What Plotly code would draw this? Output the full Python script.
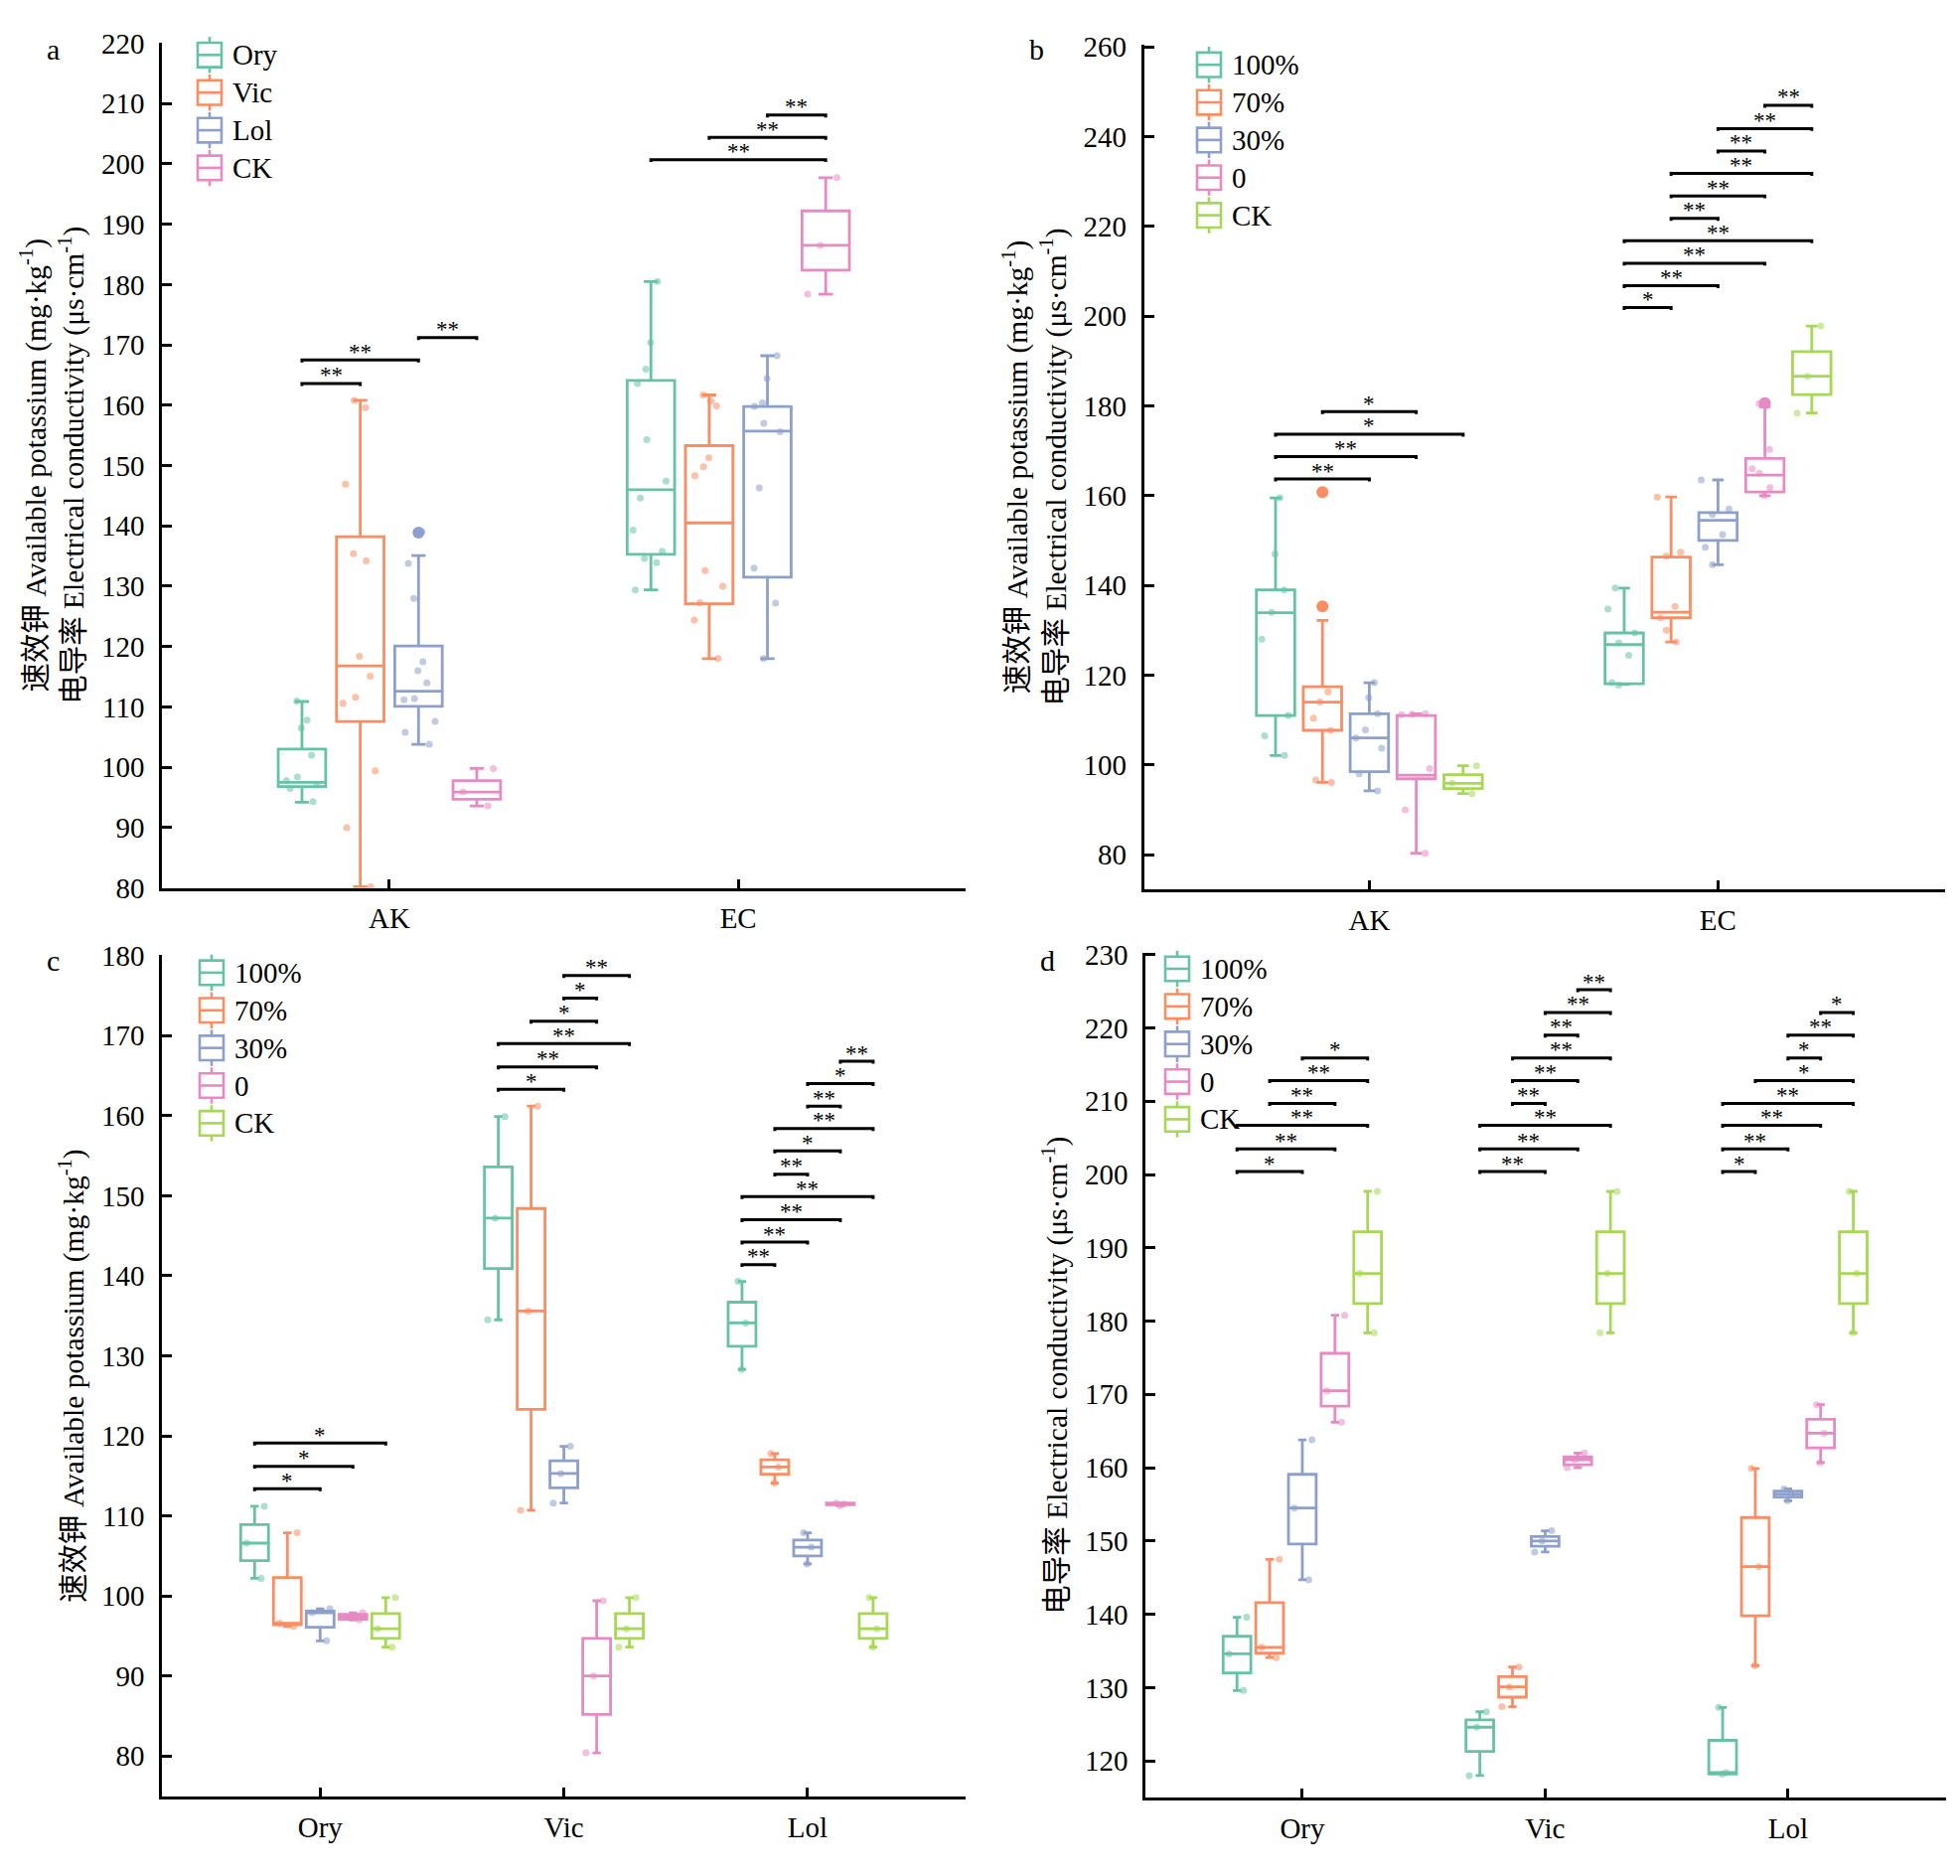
import plotly.graph_objects as go

# ---------------- data ----------------
COLORS = ["#66C2A5", "#FC8D62", "#8DA0CB", "#E78AC3", "#A6D854"]
COLORS_A = ["#66C2A5", "#FC8D62", "#8DA0CB", "#E78AC3"]

# panel a: grouped by crop, categories AK / EC
A_GROUPS = ["Ory", "Vic", "Lol", "CK"]
A_CATS = ["AK", "EC"]
A_LOWER = [[94.2, 129.4], [80.2, 118.0], [103.8, 118.0], [93.6, 178.4]]
A_Q1 = [[96.8, 135.3], [107.6, 127.1], [110.1, 131.5], [94.7, 182.4]]
A_MEDIAN = [[97.5, 146.0], [116.8, 140.5], [112.6, 155.7], [95.9, 186.5]]
A_Q3 = [[103.0, 164.1], [138.2, 153.3], [120.1, 159.8], [97.8, 192.2]]
A_UPPER = [[110.9, 180.5], [160.8, 161.7], [135.1, 168.2], [99.8, 197.7]]
A_POINTS = [
    [[111.0, 107.8, 106.5, 102.0, 98.4, 97.8, 97.2, 96.5, 94.3],
     [180.5, 170.4, 166.0, 163.6, 154.3, 147.4, 144.6, 139.3, 135.8, 134.6, 133.9, 129.4]],
    [[160.8, 159.6, 146.9, 135.4, 134.2, 118.4, 115.1, 111.6, 110.6, 99.4, 90.0, 80.2],
     [161.7, 160.7, 159.9, 151.3, 149.8, 148.3, 132.6, 130.0, 127.3, 124.4, 118.0]],
    [[139.0, 133.8, 128.0, 117.5, 116.0, 114.0, 111.4, 111.2, 107.6, 105.8, 103.8],
     [168.2, 164.4, 160.4, 159.8, 157.0, 155.6, 146.3, 133.0, 127.2, 118.0]],
    [[99.8, 95.9, 93.6], [197.7, 186.5, 178.4]],
]
A_OUTLIERS = [(2, 0, 138.9)]  # (group, category, value)
A_SIG = [(0, 0, 1, 163.6, "**"), (0, 0, 2, 167.5, "**"), (0, 2, 3, 171.2, "**"),
         (1, 0, 3, 200.7, "**"), (1, 1, 3, 204.4, "**"), (1, 2, 3, 208.1, "**")]

# panel b: grouped by treatment, categories AK / EC
B_GROUPS = ["100%", "70%", "30%", "0", "CK"]
B_CATS = ["AK", "EC"]
B_LOWER = [[102.1, 118.0], [96.1, 127.4], [94.2, 144.6], [80.3, 160.0], [93.6, 178.4]]
B_Q1 = [[111.0, 118.1], [107.7, 132.8], [98.5, 150.0], [96.9, 160.8], [94.7, 182.5]]
B_MEDIAN = [[133.9, 126.8], [114.0, 134.0], [106.0, 154.5], [97.7, 164.6], [95.9, 186.6]]
B_Q3 = [[139.0, 129.4], [117.4, 146.3], [111.4, 156.2], [111.0, 168.3], [97.8, 192.1]]
B_UPPER = [[159.5, 139.4], [132.2, 159.7], [118.3, 163.5], [111.4, 179.8], [99.8, 197.8]]
B_POINTS = [
    [[159.5, 147.0, 139.0, 134.0, 128.0, 111.0, 106.5, 102.1],
     [139.4, 134.7, 129.4, 127.2, 124.4, 118.3, 117.8]],
    [[160.8, 116.3, 114.0, 110.4, 107.7, 96.6, 96.1],
     [159.7, 147.4, 146.5, 135.3, 132.8, 130.0, 127.4]],
    [[118.3, 115.0, 111.4, 107.8, 106.0, 103.7, 98.0, 94.2],
     [163.5, 157.0, 155.8, 151.3, 148.5, 144.6]],
    [[111.4, 111.3, 111.2, 99.2, 90.0, 80.3],
     [180.5, 170.3, 166.0, 165.0, 161.8, 160.0]],
    [[99.8, 95.9, 93.6], [197.8, 186.6, 178.4]],
]
B_OUTLIERS = [(1, 0, 160.8), (1, 0, 135.3), (3, 1, 180.6)]
B_SIG = [(0, 0, 2, 163.7, "**"), (0, 0, 3, 168.7, "**"), (0, 0, 4, 173.7, "*"), (0, 1, 3, 178.7, "*"),
         (1, 0, 1, 201.9, "*"), (1, 0, 2, 206.8, "**"), (1, 0, 3, 211.8, "**"), (1, 0, 4, 216.8, "**"),
         (1, 1, 2, 221.8, "**"), (1, 1, 3, 226.8, "**"), (1, 1, 4, 231.8, "**"),
         (1, 2, 3, 236.8, "**"), (1, 2, 4, 241.8, "**"), (1, 3, 4, 247.0, "**")]

# panel c: available potassium by crop
C_GROUPS = ["100%", "70%", "30%", "0", "CK"]
C_CATS = ["Ory", "Vic", "Lol"]
C_LOWER = [[102.2, 134.5, 128.3], [96.2, 110.7, 114.1], [94.4, 111.6, 104.0], [97.0, 80.4, 111.3], [93.6, 93.6, 93.6]]
C_Q1 = [[104.4, 140.9, 131.2], [96.4, 123.3, 115.2], [96.1, 113.5, 105.0], [97.1, 85.2, 111.4], [94.7, 94.7, 94.7]]
C_MEDIAN = [[106.6, 147.2, 134.1], [96.6, 135.6, 116.1], [97.9, 115.3, 106.1], [97.4, 90.0, 111.5], [95.9, 95.9, 95.9]]
C_Q3 = [[108.9, 153.6, 136.7], [102.3, 148.4, 117.0], [98.1, 116.9, 107.0], [97.7, 94.7, 111.6], [97.8, 97.8, 97.8]]
C_UPPER = [[111.2, 159.9, 139.3], [107.9, 161.2, 117.8], [98.4, 118.7, 107.9], [97.9, 99.4, 111.6], [99.8, 99.8, 99.8]]
C_POINTS = [
    [[111.2, 106.6, 102.2], [159.9, 147.2, 134.5], [139.3, 134.1, 128.3]],
    [[107.9, 96.6, 96.2], [161.2, 135.6, 110.7], [117.8, 116.1, 114.1]],
    [[98.4, 97.9, 94.4], [118.7, 115.3, 111.6], [107.9, 106.1, 104.0]],
    [[97.9, 97.4, 97.0], [99.4, 90.0, 80.4], [111.6, 111.5, 111.3]],
    [[99.8, 95.9, 93.6], [99.8, 95.9, 93.6], [99.8, 95.9, 93.6]],
]
C_OUTLIERS = []
C_SIG = [(0, 0, 2, 113.4, "*"), (0, 0, 3, 116.2, "*"), (0, 0, 4, 119.1, "*"),
         (1, 0, 2, 163.3, "*"), (1, 0, 3, 166.1, "**"), (1, 0, 4, 169.0, "**"),
         (1, 1, 3, 171.8, "*"), (1, 2, 3, 174.7, "*"), (1, 2, 4, 177.5, "**"),
         (2, 0, 1, 141.4, "**"), (2, 0, 2, 144.2, "**"), (2, 0, 3, 147.0, "**"), (2, 0, 4, 149.9, "**"),
         (2, 1, 2, 152.7, "**"), (2, 1, 3, 155.6, "*"), (2, 1, 4, 158.4, "**"),
         (2, 2, 3, 161.2, "**"), (2, 2, 4, 164.0, "*"), (2, 3, 4, 166.8, "**")]

# panel d: electrical conductivity by crop
D_GROUPS = ["100%", "70%", "30%", "0", "CK"]
D_CATS = ["Ory", "Vic", "Lol"]
D_LOWER = [[129.6, 118.0, 118.2], [134.1, 127.4, 133.0], [144.7, 148.5, 155.5], [166.2, 160.0, 160.7], [178.4, 178.4, 178.4]]
D_Q1 = [[132.0, 121.3, 118.2], [134.7, 128.7, 139.8], [149.6, 149.3, 156.0], [168.4, 160.4, 162.7], [182.4, 182.4, 182.4]]
D_MEDIAN = [[134.6, 124.6, 118.4], [135.5, 130.1, 146.5], [154.5, 150.0, 156.4], [170.5, 161.1, 164.7], [186.5, 186.5, 186.5]]
D_Q3 = [[137.0, 125.6, 122.8], [141.6, 131.5, 153.2], [159.1, 150.6, 156.8], [175.6, 161.5, 166.6], [192.2, 192.2, 192.2]]
D_UPPER = [[139.6, 126.7, 127.3], [147.5, 132.8, 159.9], [163.8, 151.4, 157.1], [180.8, 162.0, 168.6], [197.7, 197.7, 197.7]]
D_POINTS = [
    [[139.6, 134.6, 129.6], [126.7, 124.6, 118.0], [127.3, 118.4, 118.2]],
    [[147.5, 135.5, 134.1], [132.8, 130.1, 127.4], [159.9, 146.5, 133.0]],
    [[163.8, 154.5, 144.7], [151.4, 150.0, 148.5], [157.1, 156.4, 155.5]],
    [[180.8, 170.5, 166.2], [162.0, 161.1, 160.0], [168.6, 164.7, 160.7]],
    [[197.7, 186.5, 178.4], [197.7, 186.5, 178.4], [197.7, 186.5, 178.4]],
]
D_OUTLIERS = []
D_SIG = [(0, 0, 2, 200.4, "*"), (0, 0, 3, 203.5, "**"), (0, 0, 4, 206.7, "**"),
         (0, 1, 3, 209.7, "**"), (0, 1, 4, 212.8, "**"), (0, 2, 4, 215.9, "*"),
         (1, 0, 2, 200.4, "**"), (1, 0, 3, 203.5, "**"), (1, 0, 4, 206.7, "**"),
         (1, 1, 2, 209.7, "**"), (1, 1, 3, 212.8, "**"), (1, 1, 4, 215.9, "**"),
         (1, 2, 3, 219.0, "**"), (1, 2, 4, 222.1, "**"), (1, 3, 4, 225.2, "**"),
         (2, 0, 1, 200.4, "*"), (2, 0, 2, 203.5, "**"), (2, 0, 3, 206.7, "**"), (2, 0, 4, 209.7, "**"),
         (2, 1, 4, 212.8, "*"), (2, 2, 3, 215.9, "*"), (2, 2, 4, 219.0, "**"), (2, 3, 4, 222.1, "*")]

YT_AK = "速效钾 Available potassium (mg·kg<sup>-1</sup>)"
YT_EC = "电导率 Electrical conductivity (μs·cm<sup>-1</sup>)"

# ---------------- layout helpers ----------------
W, H = 1973, 1888
FONT = "Liberation Serif, Noto Sans CJK SC, serif"

fig = go.Figure()
annotations = []
shapes = []


def add_panel(n, groups, cats, lower, q1, med, q3, upper, points, outliers, sig,
              colors, step, bw, yrange, px_height):
    xa = "x" if n == 1 else f"x{n}"
    ya = "y" if n == 1 else f"y{n}"
    ng = len(groups)

    def pos(c, g):
        return c + (g - (ng - 1) / 2) * step

    for g, name in enumerate(groups):
        xs = [pos(c, g) for c in range(len(cats))]
        # jittered raw points (drawn by plotly's box point jitter)
        ptx, pty = [], []
        for c in range(len(cats)):
            for v in points[g][c]:
                ptx.append(xs[c])
                pty.append(v)
        fig.add_trace(go.Box(
            x=ptx, y=pty, boxpoints="all", jitter=0.9, pointpos=0, width=bw,
            line=dict(width=0), fillcolor="rgba(0,0,0,0)", whiskerwidth=0,
            marker=dict(color=colors[g], size=7, opacity=0.55),
            showlegend=False, hoverinfo="y", xaxis=xa, yaxis=ya))
        # the box itself from the summary statistics
        fig.add_trace(go.Box(
            x=xs, q1=q1[g], median=med[g], q3=q3[g],
            lowerfence=lower[g], upperfence=upper[g],
            width=bw, whiskerwidth=0.3, name=name,
            line=dict(color=colors[g], width=2.8), fillcolor="rgba(0,0,0,0)",
            boxpoints=False, showlegend=False, xaxis=xa, yaxis=ya))

    if outliers:
        fig.add_trace(go.Scatter(
            x=[pos(c, g) for g, c, v in outliers], y=[v for g, c, v in outliers],
            mode="markers", marker=dict(color=[colors[g] for g, c, v in outliers], size=12),
            showlegend=False, xaxis=xa, yaxis=ya))

    # significance brackets
    hook = 2.5 * (yrange[1] - yrange[0]) / px_height
    bx, by = [], []
    for c, g1, g2, yv, lab in sig:
        x1, x2 = pos(c, g1), pos(c, g2)
        bx += [x1, x1, x2, x2, None]
        by += [yv - hook, yv, yv, yv - hook, None]
        annotations.append(dict(
            x=(x1 + x2) / 2, y=yv, xref=xa, yref=ya, text=lab, showarrow=False,
            yanchor="middle", yshift=8, font=dict(family=FONT, size=23, color="black")))
    fig.add_trace(go.Scatter(x=bx, y=by, mode="lines", line=dict(color="black", width=3),
                             showlegend=False, hoverinfo="skip", xaxis=xa, yaxis=ya))


def add_legend(groups, colors, cx, cy0, dy=38.5):
    # box-shaped legend keys (box, median, whiskers) in pixel positions of the page
    def fx(v):
        return v / W

    def fy(v):
        return 1 - v / H

    for g, name in enumerate(groups):
        cy = cy0 + g * dy
        ln = dict(color=colors[g], width=2.6)
        shapes.append(dict(type="rect", xref="paper", yref="paper", line=ln,
                           x0=fx(cx - 12), x1=fx(cx + 12), y0=fy(cy + 12.5), y1=fy(cy - 12.5)))
        shapes.append(dict(type="line", xref="paper", yref="paper", line=ln,
                           x0=fx(cx - 12), x1=fx(cx + 12), y0=fy(cy), y1=fy(cy)))
        for s in (-1, 1):
            shapes.append(dict(type="line", xref="paper", yref="paper", line=ln,
                               x0=fx(cx), x1=fx(cx), y0=fy(cy + s * 12.5), y1=fy(cy + s * 18.5)))
        annotations.append(dict(x=fx(cx + 21), y=fy(cy), xref="paper", yref="paper", text=name,
                                showarrow=False, xanchor="left", yanchor="middle",
                                font=dict(family=FONT, size=29, color="black")))


RANGE_A = (80, 220.1)
RANGE_B = (72.2, 260.6)
RANGE_C = (74.9, 180.1)
RANGE_D = (115.0, 230.2)

add_panel(1, A_GROUPS, A_CATS, A_LOWER, A_Q1, A_MEDIAN, A_Q3, A_UPPER, A_POINTS,
          A_OUTLIERS, A_SIG, COLORS_A, 0.167, 0.136, RANGE_A, 865)
add_panel(2, B_GROUPS, B_CATS, B_LOWER, B_Q1, B_MEDIAN, B_Q3, B_UPPER, B_POINTS,
          B_OUTLIERS, B_SIG, COLORS, 0.1345, 0.11, RANGE_B, 865)
add_panel(3, C_GROUPS, C_CATS, C_LOWER, C_Q1, C_MEDIAN, C_Q3, C_UPPER, C_POINTS,
          C_OUTLIERS, C_SIG, COLORS, 0.1345, 0.114, RANGE_C, 862)
add_panel(4, D_GROUPS, D_CATS, D_LOWER, D_Q1, D_MEDIAN, D_Q3, D_UPPER, D_POINTS,
          D_OUTLIERS, D_SIG, COLORS, 0.1345, 0.114, RANGE_D, 864)

add_legend(A_GROUPS, COLORS_A, 211, 41)
add_legend(B_GROUPS, COLORS, 1217, 51)
add_legend(C_GROUPS, COLORS, 213, 980)
add_legend(D_GROUPS, COLORS, 1185, 976)

axis_style = dict(showline=True, linecolor="black", linewidth=3, showgrid=False,
                  zeroline=False, tickcolor="black", tickwidth=3, ticks="inside",
                  tickfont=dict(family=FONT, size=29, color="black"))


def xaxis(domain, cats, anchor, left):
    return dict(axis_style, domain=domain, anchor=anchor, range=[left, len(cats) - 1 + 0.65],
                tickmode="array", tickvals=list(range(len(cats))), ticktext=cats,
                ticklen=9, ticklabelstandoff=3)


def yaxis(domain, rng, dtick, title, anchor):
    return dict(axis_style, domain=domain, anchor=anchor, range=list(rng), dtick=dtick,
                ticklen=10, ticklabelstandoff=9,
                title=dict(text=title, font=dict(family=FONT, size=29.5, color="black"), standoff=9))


for lab, lx, ly in [("a", 53, 35), ("b", 1043, 35), ("c", 53, 967), ("d", 1054, 967)]:
    annotations.append(dict(x=lx / W, y=1 - ly / H, xref="paper", yref="paper", text=lab,
                            showarrow=False, xanchor="center", yanchor="middle",
                            font=dict(family=FONT, size=30, color="black")))

fig.update_layout(
    width=W, height=H, margin=dict(l=0, r=0, t=0, b=0),
    paper_bgcolor="white", plot_bgcolor="white", boxmode="overlay", showlegend=False,
    xaxis=xaxis([163.3 / W, 971.5 / W], A_CATS, "y", -0.651),
    yaxis=yaxis([1 - 893.3 / H, 1 - 28.3 / H], RANGE_A, 10, YT_AK + "<br>" + YT_EC, "x"),
    xaxis2=xaxis([1151.7 / W, 1957.5 / W], B_CATS, "y2", -0.646),
    yaxis2=yaxis([1 - 895 / H, 1 - 30 / H], RANGE_B, 20, YT_AK + "<br>" + YT_EC, "x2"),
    xaxis3=xaxis([163.3 / W, 972.4 / W], C_CATS, "y3", -0.648),
    yaxis3=yaxis([1 - 1823.3 / H, 1 - 961.7 / H], RANGE_C, 10, YT_AK, "x3"),
    xaxis4=xaxis([1153.3 / W, 1958.7 / W], D_CATS, "y4", -0.645),
    yaxis4=yaxis([1 - 1824 / H, 1 - 960 / H], RANGE_D, 10, YT_EC, "x4"),
    annotations=annotations,
    shapes=shapes,
)

fig.write_html("out.html", config={"displayModeBar": False},
               post_script="document.body.style.margin='0';")
